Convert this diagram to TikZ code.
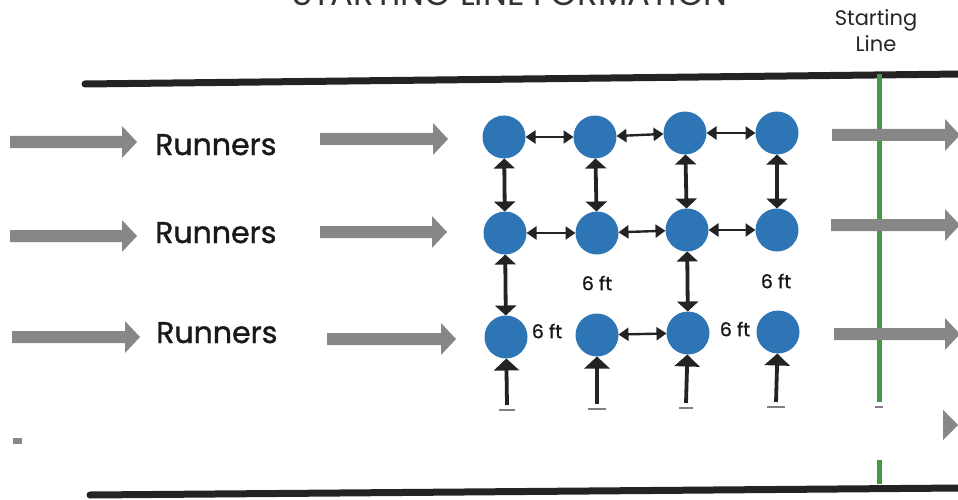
\documentclass[tikz,border=0pt]{standalone}
\usepackage{fontspec}
\setmainfont{Poppins}
\newfontfamily\medfont[FakeBold=1.2]{Poppins}
\usetikzlibrary{arrows.meta}
\definecolor{runblue}{RGB}{46,117,182}
\definecolor{arrgray}{RGB}{135,135,135}
\definecolor{linegreen}{RGB}{70,150,70}
\definecolor{lineblack}{RGB}{35,35,35}
\tikzset{
  runner/.style={circle, fill=runblue, minimum size=43pt, inner sep=0pt, outer sep=0pt},
  hdbl/.style={draw=lineblack, line width=2.4pt, {Triangle[width=13pt,length=10pt]}-{Triangle[width=13pt,length=10pt]}},
  vdbl/.style={draw=lineblack, line width=3.8pt, {Triangle[width=21pt,length=10pt]}-{Triangle[width=21pt,length=10pt]}},
  uparr/.style={draw=lineblack, line width=3.8pt, -{Triangle[width=25pt,length=12pt]}},
  fatarr/.style={fill=arrgray, draw=none},
  lbl/.style={font=\medfont\fontsize{30}{36}\selectfont, text=black!90, inner sep=0pt},
  ftlbl/.style={font=\medfont\fontsize{19}{22}\selectfont, text=black!90, inner sep=0pt},
  dashmark/.style={draw=gray, line width=1.2pt}
}
\newcommand\grayarrow[3]{% x1, x2, y
  \fill[fatarr] (#1,#3-6) -- (#2-15,#3-6) -- (#2-15,#3-16) -- (#2,#3) -- (#2-15,#3+16) -- (#2-15,#3+6) -- (#1,#3+6) -- cycle;}
\begin{document}
\begin{tikzpicture}[x=1pt,y=-1pt]
\useasboundingbox (0,0) rectangle (958,500);
\clip (0,0) rectangle (958,500);
% title (cut off at the top edge, as in the reference)
\node[anchor=base, font=\fontsize{34}{40}\selectfont, text=black!80, inner sep=0pt] (title) at (510,6) {STARTING LINE FORMATION};
% starting line label
\node[font=\fontsize{21}{26}\selectfont, align=center, text=black!85, inner sep=0pt] (slabel) at (876,31) {Starting\\Line};
% track borders
\draw[lineblack, line width=7pt, line cap=round] (85,84) -- (962,74);
\draw[lineblack, line width=7pt, line cap=round] (90,495) -- (962,488);
% green starting line
\draw[linegreen, line width=5pt] (879,74) -- (879,402);
\draw[linegreen, line width=5pt] (879,460) -- (879,484);
\draw[dashmark] (875,407) -- (883,407);
% gray runner arrows
\grayarrow{10}{137}{142}
\grayarrow{320}{448}{139}
\grayarrow{10}{137}{236}
\grayarrow{320}{447}{232}
\grayarrow{12}{140}{337}
\grayarrow{327}{456}{339}
\grayarrow{832}{960}{135}
\grayarrow{831}{960}{225}
\grayarrow{834}{960}{334}
\fill[fatarr] (943,410) -- (958,425) -- (943,440) -- cycle;
\fill[arrgray] (13,438) rectangle (22,444);
% Runners labels
\node[lbl, anchor=base west] (r1) at (155,155) {Runners};
\node[lbl, anchor=base west] (r2) at (155,243) {Runners};
\node[lbl, anchor=base west] (r3) at (156,343) {Runners};
% runners (circles)
\node[runner] (c11) at (504,137) {};
\node[runner] (c12) at (595,137) {};
\node[runner] (c13) at (685,133) {};
\node[runner] (c14) at (777,133) {};
\node[runner] (c21) at (505,233) {};
\node[runner] (c22) at (597,233) {};
\node[runner] (c23) at (687,230) {};
\node[runner] (c24) at (777,230) {};
\node[runner] (c31) at (506,337) {};
\node[runner] (c32) at (597,335) {};
\node[runner] (c33) at (688,333) {};
\node[runner] (c34) at (778,332) {};
% horizontal spacing arrows
\draw[hdbl] (c11) -- (c12);
\draw[hdbl] (c12) -- (c13);
\draw[hdbl] (c13) -- (c14);
\draw[hdbl] (c21) -- (c22);
\draw[hdbl] (c22) -- (c23);
\draw[hdbl] (c23) -- (c24);
\draw[hdbl] (c32) -- (c33);
% vertical spacing arrows
\draw[vdbl] (c11) -- (c21);
\draw[vdbl] (c12) -- (c22);
\draw[vdbl] (c13) -- (c23);
\draw[vdbl] (c14) -- (c24);
\draw[vdbl] (c21) -- (c31);
\draw[vdbl] (c23) -- (c33);
% distance labels
\node[ftlbl] (f1) at (597,283) {6 ft};
\node[ftlbl] (f2) at (776,281) {6 ft};
\node[ftlbl] (f3) at (547,331) {6 ft};
\node[ftlbl] (f4) at (735,329) {6 ft};
% arrows from behind
\coordinate (b1) at (507,405);
\coordinate (b2) at (597,404);
\coordinate (b3) at (686,403);
\coordinate (b4) at (776,402);
\draw[uparr] (b1) -- (c31);
\draw[uparr] (b2) -- (c32);
\draw[uparr] (b3) -- (c33);
\draw[uparr] (b4) -- (c34);
\draw[dashmark] (499,410) -- (515,410);
\draw[dashmark] (588,409) -- (606,409);
\draw[dashmark] (679,408) -- (693,408);
\draw[dashmark] (767,407) -- (785,407);
\end{tikzpicture}
\end{document}
